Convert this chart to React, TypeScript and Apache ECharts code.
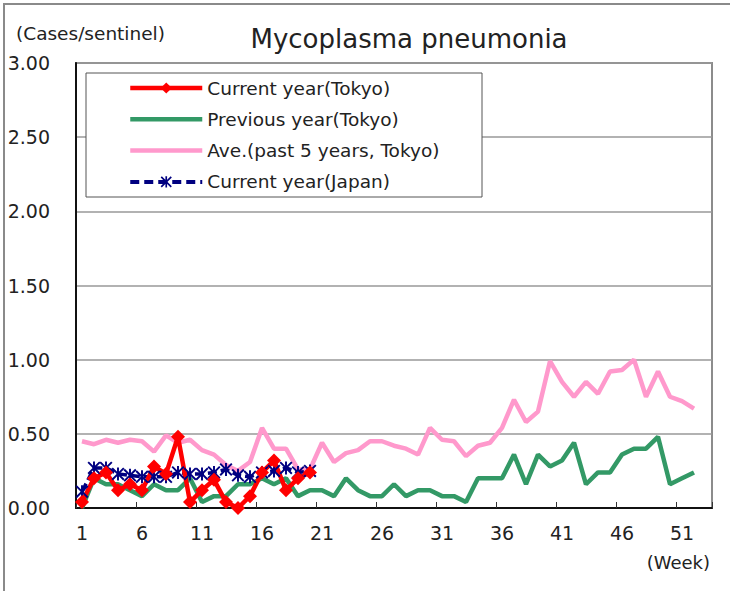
import React, { useEffect, useRef } from "react";
import * as echarts from "echarts";

const weeks = [
  "1","2","3","4","5","6","7","8","9","10","11","12","13","14","15","16","17","18","19","20",
  "21","22","23","24","25","26","27","28","29","30","31","32","33","34","35","36","37","38","39","40",
  "41","42","43","44","45","46","47","48","49","50","51","52","53",
];

const currentTokyo = [
  0.04, 0.2, 0.24, 0.12, 0.16, 0.12, 0.28, 0.23, 0.48, 0.04,
  0.12, 0.19, 0.04, 0.0, 0.08, 0.24, 0.32, 0.12, 0.2, 0.24,
];

const previousTokyo = [
  0.0, 0.2, 0.16, 0.16, 0.12, 0.08, 0.16, 0.12, 0.12, 0.2,
  0.04, 0.08, 0.08, 0.16, 0.16, 0.2, 0.16, 0.2, 0.08, 0.12,
  0.12, 0.08, 0.2, 0.12, 0.08, 0.08, 0.16, 0.08, 0.12, 0.12,
  0.08, 0.08, 0.04, 0.2, 0.2, 0.2, 0.36, 0.16, 0.36, 0.28,
  0.32, 0.44, 0.16, 0.24, 0.24, 0.36, 0.4, 0.4, 0.48, 0.16,
  0.2, 0.24,
];

const avgPast5 = [
  0.45, 0.43, 0.46, 0.44, 0.46, 0.45, 0.38, 0.49, 0.44, 0.46,
  0.39, 0.36, 0.29, 0.25, 0.31, 0.54, 0.4, 0.4, 0.26, 0.26,
  0.44, 0.31, 0.37, 0.39, 0.45, 0.45, 0.42, 0.4, 0.36, 0.54,
  0.46, 0.45, 0.35, 0.42, 0.44, 0.54, 0.73, 0.58, 0.65, 0.99,
  0.85, 0.75, 0.85, 0.77, 0.92, 0.93, 1.0, 0.75, 0.92, 0.75,
  0.72, 0.67,
];

const currentJapan = [
  0.11, 0.27, 0.27, 0.23, 0.22, 0.21, 0.21, 0.21, 0.24, 0.23,
  0.23, 0.24, 0.26, 0.22, 0.21, 0.24, 0.25, 0.27, 0.24, 0.25,
];

const seriesNames = [
  "Current year(Tokyo)",
  "Previous year(Tokyo)",
  "Ave.(past 5 years, Tokyo)",
  "Current year(Japan)",
];

const FONT = "DejaVu Sans";
const TXT = "#222";

const RED = "#ff0000";
const GREEN = "#339966";
const PINK = "#ff99cc";
const NAVY = "#000080";

const starPath =
  "path://M8.5 0L11.5 0L11.5 20L8.5 20Z M0 2.1L2.1 0L20 17.9L17.9 20Z M17.9 0L20 2.1L2.1 20L0 17.9Z";

export default function App() {
  const ref = useRef<HTMLDivElement>(null);

  useEffect(() => {
    if (!ref.current) return;
    const chart = echarts.init(ref.current, null, { renderer: "svg" });
    chart.setOption({
      animation: false,
      backgroundColor: "#fff",
      textStyle: { fontFamily: FONT },
      grid: {
        left: 76,
        top: 63,
        width: 636,
        height: 445,
        show: true,
        borderColor: "#8c8c8c",
        borderWidth: 2,
        backgroundColor: "transparent",
      },
      graphic: [
        {
          type: "rect",
          shape: { x: 4, y: 4, width: 760, height: 620 },
          style: { fill: "none", stroke: "#8a8a8a", lineWidth: 2 },
          z: 0,
        },
        {
          type: "rect",
          shape: { x: 86, y: 73, width: 396, height: 124 },
          style: { fill: "#fff", stroke: "#555", lineWidth: 1 },
          z: 3,
        },
        {
          type: "text",
          x: 409,
          y: 39,
          style: {
            text: "Mycoplasma pneumonia",
            font: `26px "${FONT}"`,
            fill: TXT,
            textAlign: "center",
            textVerticalAlign: "middle",
          },
        },
        {
          type: "text",
          x: 16,
          y: 33,
          style: {
            text: "(Cases/sentinel)",
            font: `18.5px "${FONT}"`,
            fill: TXT,
            textAlign: "left",
            textVerticalAlign: "middle",
          },
        },
        {
          type: "text",
          x: 710,
          y: 562,
          style: {
            text: "(Week)",
            font: `18px "${FONT}"`,
            fill: TXT,
            textAlign: "right",
            textVerticalAlign: "middle",
          },
        },
      ],
      legend: {
        orient: "vertical",
        left: 128,
        top: 77,
        padding: 0,
        itemWidth: 72,
        itemHeight: 14,
        itemGap: 9.3,
        z: 5,
        data: [
          { name: seriesNames[0], lineStyle: { width: 4.5, color: RED }, itemStyle: { color: RED } },
          { name: seriesNames[1], lineStyle: { width: 4.5, color: GREEN }, itemStyle: { opacity: 0 } },
          { name: seriesNames[2], lineStyle: { width: 4.5, color: PINK }, itemStyle: { opacity: 0 } },
          { name: seriesNames[3], lineStyle: { width: 4, color: NAVY, type: [9, 5] }, itemStyle: { color: NAVY } },
        ],
        textStyle: { fontFamily: FONT, fontSize: 18.5, lineHeight: 22, color: TXT },
      },
      xAxis: {
        type: "category",
        data: weeks,
        boundaryGap: true,
        axisLine: { lineStyle: { color: "#111", width: 2 } },
        axisTick: { show: true, inside: true, length: 6, interval: 4, lineStyle: { color: "#333", width: 1 } },
        axisLabel: { interval: 4, fontSize: 19, color: TXT, margin: 15, fontFamily: FONT },
        splitLine: { show: false },
      },
      yAxis: {
        type: "value",
        min: 0,
        max: 3,
        interval: 0.5,
        axisLine: { show: true, lineStyle: { color: "#111", width: 2 } },
        axisTick: { show: false },
        axisLabel: {
          fontSize: 19,
          color: TXT,
          margin: 26,
          fontFamily: FONT,
          formatter: (v: number) => v.toFixed(2),
        },
        splitLine: { show: true, lineStyle: { color: "#999", width: 1.5 } },
      },
      series: [
        {
          name: seriesNames[2],
          type: "line",
          data: avgPast5,
          symbol: "none",
          lineStyle: { color: PINK, width: 4.5 },
          itemStyle: { color: PINK },
        },
        {
          name: seriesNames[1],
          type: "line",
          data: previousTokyo,
          symbol: "none",
          lineStyle: { color: GREEN, width: 4.5 },
          itemStyle: { color: GREEN },
        },
        {
          name: seriesNames[3],
          type: "line",
          data: currentJapan,
          symbol: starPath,
          symbolSize: 13,
          showAllSymbol: true,
          lineStyle: { color: NAVY, width: 3.5, type: [9, 4] },
          itemStyle: { color: NAVY },
        },
        {
          name: seriesNames[0],
          type: "line",
          data: currentTokyo,
          symbol: "diamond",
          symbolSize: 14,
          showAllSymbol: true,
          lineStyle: { color: RED, width: 4.5 },
          itemStyle: { color: RED },
        },
      ],
    });
    return () => chart.dispose();
  }, []);

  return (
    <div
      ref={ref}
      style={{ position: "fixed", left: 0, top: 0, width: 730, height: 591 }}
    />
  );
}
